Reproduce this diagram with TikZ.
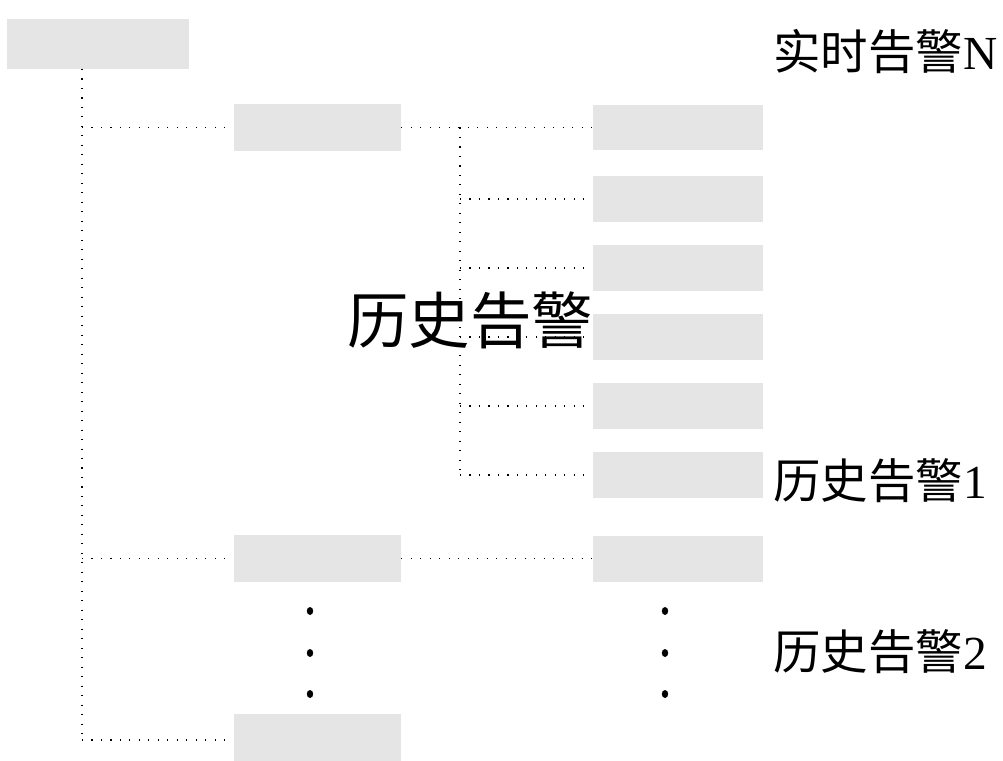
\documentclass[tikz,border=0pt]{standalone}
\usepackage{fontspec}
\setmainfont{Liberation Serif}
\newfontfamily\cjk{Noto Sans CJK SC}
\definecolor{boxgray}{RGB}{229,229,229}
\begin{document}
\begin{tikzpicture}[x=0.02cm,y=-0.02cm,
  gbox/.style={fill=boxgray,draw=none,inner sep=0pt},
  boxA/.style={gbox,minimum width=3.64cm,minimum height=1.0cm},
  boxB/.style={gbox,minimum width=3.34cm,minimum height=0.94cm},
  boxC/.style={gbox,minimum width=3.4cm,minimum height=0.92cm},
  conn/.style={line width=0.6pt,dash pattern=on 0.6pt off 4.8pt},
  lbl/.style={inner sep=0pt,anchor=west,font=\fontsize{27}{30}\selectfont},
  biglbl/.style={inner sep=0pt,anchor=west,font=\fontsize{35}{40}\selectfont},
  dot/.style={fill=black,draw=none,ellipse,minimum width=0pt}]
\useasboundingbox (0,0) rectangle (1003,760);
% big background label (drawn first, boxes on top)
\node[biglbl] (hist) at (347,320) {\cjk 历史告警};
% nodes
\node[boxA] (A) at (98,44) {};
\node[boxB] (B1) at (317.5,127.5) {};
\node[boxB] (B2) at (317.5,558.5) {};
\node[boxB] (B3) at (317.5,737.5) {};
\node[boxC] (C1) at (678,127.5) {};
\node[boxC] (C2) at (678,199) {};
\node[boxC] (C3) at (678,268) {};
\node[boxC] (C4) at (678,337) {};
\node[boxC] (C5) at (678,406) {};
\node[boxC] (C6) at (678,475) {};
\node[boxC] (C7) at (678,558.5) {};
% connector coordinates
\coordinate (rtop) at (82,69);
\coordinate (rbot) at (82,740);
\coordinate (jtop) at (460,127.5);
\coordinate (jbot) at (460,475);
% root trunk
\draw[conn] (rtop) -- (rbot);
\draw[conn] (B1.west -| rtop) -- (B1.west);
\draw[conn] (B2.west -| rtop) -- (B2.west);
\draw[conn] (rbot) -- (B3.west |- rbot);
% branch
\draw[conn] (B1.east) -- (C1.west);
\draw[conn] (jtop) -- (jbot);
\foreach \c in {C2,C3,C4,C5,C6}{
  \draw[conn] (\c.west -| jtop) -- (\c.west);
}
\draw[conn] (B2.east) -- (C7.west);
% vertical ellipsis dots
\foreach \y [count=\i] in {611,653,694}{
  \fill (310,\y) ellipse [x radius=3.2, y radius=4];
  \fill (665,\y) ellipse [x radius=3.2, y radius=4];
}
% labels
\node[lbl] (lN) at (773,52) {{\cjk 实时告警}N};
\node[lbl] (l1) at (773,481) {{\cjk 历史告警}1};
\node[lbl] (l2) at (773,652) {{\cjk 历史告警}2};
\end{tikzpicture}
\end{document}
